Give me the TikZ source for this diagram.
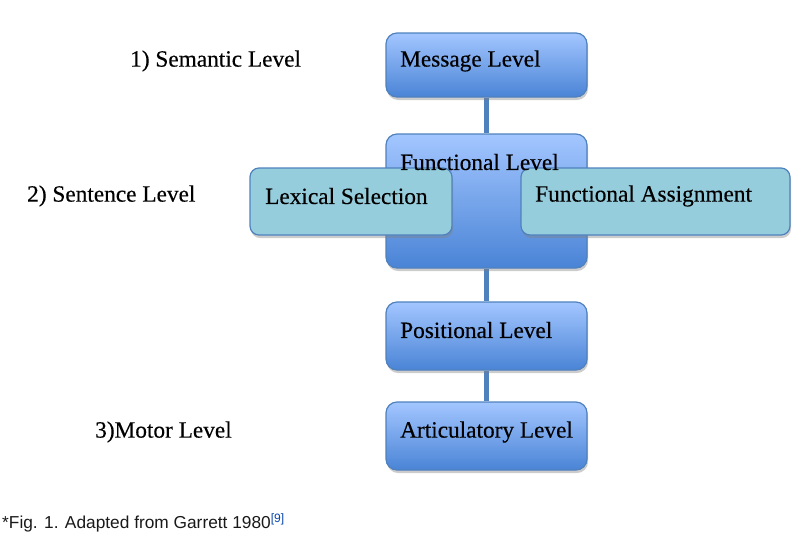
\documentclass[tikz,border=0pt]{standalone}
\usepackage{fontspec}
\setmainfont{Liberation Serif}
\newfontfamily\boxfont[FakeBold=0.35]{Liberation Serif}
\newfontfamily\capfont{Liberation Sans}
\usetikzlibrary{shadows,backgrounds}
\definecolor{edgeblue}{HTML}{4F81BD}
\definecolor{topblue}{HTML}{A3C6FF}
\definecolor{botblue}{HTML}{4A84D6}
\definecolor{aqua}{HTML}{95CDDD}
\definecolor{linkblue}{HTML}{0645AD}
\tikzset{
  bluebox/.style={draw=edgeblue, line width=1.2pt, rounded corners=11pt,
    top color=topblue, bottom color=botblue, inner sep=0pt,
    drop shadow={opacity=0.4, shadow xshift=1pt, shadow yshift=-3pt}},
  aquabox/.style={draw=edgeblue, line width=1.2pt, rounded corners=9pt,
    fill=aqua, inner sep=0pt,
    drop shadow={opacity=0.4, shadow xshift=1pt, shadow yshift=-3pt}},
  boxtext/.style={font=\boxfont\fontsize{23.3}{27}\selectfont, text=black, inner sep=0pt, anchor=west},
  link/.style={draw=edgeblue, line width=5pt}
}
\begin{document}
\begin{tikzpicture}[x=1pt,y=1pt]
\useasboundingbox (0,0) rectangle (811,-547);
% boxes
\node[bluebox, minimum width=201pt, minimum height=64pt] (msg) at (486.5,-65) {};
\node[bluebox, minimum width=201pt, minimum height=134pt] (fun) at (486.5,-201) {};
\node[bluebox, minimum width=201pt, minimum height=68pt] (pos) at (486.5,-336) {};
\node[bluebox, minimum width=201pt, minimum height=68pt] (art) at (486.5,-436) {};
\node[aquabox, minimum width=202pt, minimum height=67pt] (lex) at (351,-201.5) {};
\node[aquabox, minimum width=269pt, minimum height=67pt] (fa) at (655.5,-201.5) {};
% connectors
\begin{scope}[on background layer]
\draw[link] (msg.south) -- (fun.north);
\draw[link] (fun.south) -- (pos.north);
\draw[link] (pos.south) -- (art.north);
\end{scope}
% texts
\node[boxtext] (tmsg) at (400,-61) {Message Level};
\node[boxtext] (tfun) at (400,-162) {Functional Level};
\node[boxtext] (tlex) at (265,-196) {Lexical Selection};
\node[boxtext] (tfa) at (535,-196) {Functional Assignment};
\node[boxtext] (tpos) at (400,-330) {Positional Level};
\node[boxtext] (tart) at (400,-432) {Articulatory Level};
\node[boxtext] (s1) at (130,-61) {1) Semantic Level};
\node[boxtext] (s2) at (27,-196) {2) Sentence Level};
\node[boxtext] (s3) at (95,-432) {3)Motor Level};
\node[anchor=west, inner sep=0pt, font=\capfont\fontsize{17.3}{20}\selectfont, text=black!90] (cap) at (2,-523)
  {*Fig. 1. Adapted from Garrett 1980\textsuperscript{\color{linkblue}[9]}};
\end{tikzpicture}
\end{document}
